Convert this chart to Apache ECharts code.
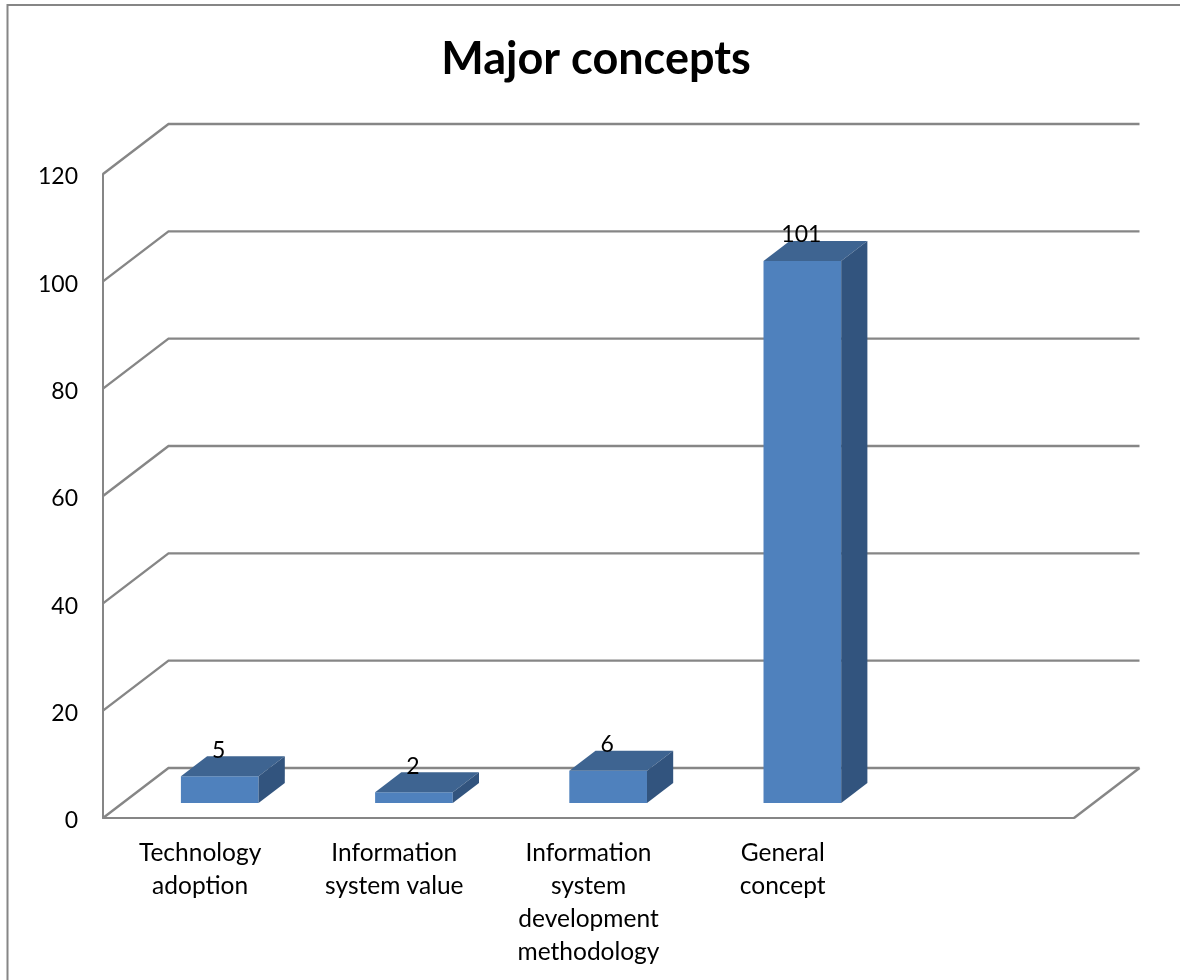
<!DOCTYPE html>
<html>
<head>
<meta charset="utf-8">
<style>html,body{margin:0;padding:0;background:#fff}#chart{width:1180px;height:980px}</style>
<script src="https://cdn.jsdelivr.net/npm/echarts@6/dist/echarts.min.js"></script>
</head>
<body>
<div id="chart"></div>
<script>
// Chart data
const chartTitle = 'Major concepts';
const categories = ['Technology\nadoption', 'Information\nsystem value', 'Information\nsystem\ndevelopment\nmethodology', 'General\nconcept', ''];
const conceptCounts = [5, 2, 6, 101];
const yTicks = [0, 20, 40, 60, 80, 100, 120];

// Oblique projection of the box: pixels moved per full unit of floor depth
const DEPTH_X = 65.5;
const DEPTH_Y = -50;
const BAR_FRONT = 0.3;
const BAR_DEPTH = 0.4;
const BAR_WIDTH_RATIO = 0.4;

const WALL = '#868686';
const FRONT = '#4f81bd';
const TOP = '#3e6491';
const SIDE = '#32547e';
const FONT = 'Lato';

const chart = echarts.init(document.getElementById('chart'), null, { renderer: 'canvas' });

function renderWall(params, api) {
  const rect = params.coordSys;
  const v = api.value(0);
  const y = api.coord([0, v])[1];
  const x0 = rect.x;
  const x1 = rect.x + rect.width;
  const shape = { points: [[x0, y], [x0 + DEPTH_X, y + DEPTH_Y], [x1 + DEPTH_X, y + DEPTH_Y]] };
  const children = [{ type: 'polyline', shape, style: { stroke: WALL, lineWidth: 2.4, fill: 'none' } }];
  if (v === 0) {
    children.push({
      type: 'line',
      shape: { x1: x1, y1: y, x2: x1 + DEPTH_X, y2: y + DEPTH_Y },
      style: { stroke: WALL, lineWidth: 2.4 }
    });
  }
  return { type: 'group', children };
}

function renderBar(params, api) {
  const idx = api.value(0);
  const val = api.value(1);
  const base = api.coord([idx, 0]);
  const top = api.coord([idx, val]);
  const w = api.size([1, 0])[0] * BAR_WIDTH_RATIO;
  const l = base[0] - w / 2 + DEPTH_X * BAR_FRONT;
  const r = l + w;
  const yB = base[1] + DEPTH_Y * BAR_FRONT;
  const yT = top[1] + DEPTH_Y * BAR_FRONT;
  const dx = DEPTH_X * BAR_DEPTH;
  const dy = DEPTH_Y * BAR_DEPTH;
  return {
    type: 'group',
    children: [
      { type: 'polygon', shape: { points: [[l, yB], [r, yB], [r, yT], [l, yT]] }, style: { fill: FRONT } },
      { type: 'polygon', shape: { points: [[l, yT], [r, yT], [r + dx, yT + dy], [l + dx, yT + dy]] }, style: { fill: TOP } },
      { type: 'polygon', shape: { points: [[r, yB], [r + dx, yB + dy], [r + dx, yT + dy], [r, yT]] }, style: { fill: SIDE } },
      {
        type: 'text',
        z2: 10,
        style: {
          x: (l + r) / 2 - 1,
          y: yT - 26,
          text: String(val),
          font: '23px ' + FONT,
          fill: '#000',
          align: 'center',
          verticalAlign: 'middle'
        }
      }
    ]
  };
}

chart.setOption({
  animation: false,
  backgroundColor: '#fff',
  title: {
    text: chartTitle,
    left: 591,
    top: 32,
    textAlign: 'center',
    textStyle: { fontFamily: FONT, fontSize: 45, fontWeight: 'bold', color: '#000' }
  },
  grid: { left: 103, top: 174, width: 971, height: 644 },
  xAxis: {
    type: 'category',
    data: categories,
    axisTick: { show: false },
    axisLine: { lineStyle: { color: WALL, width: 2 } },
    axisLabel: { interval: 0, margin: 19, color: '#000', fontFamily: FONT, fontSize: 24.5, lineHeight: 33 }
  },
  yAxis: {
    type: 'value',
    min: 0,
    max: 120,
    interval: 20,
    axisTick: { show: false },
    splitLine: { show: false },
    axisLine: { show: true, lineStyle: { color: WALL, width: 2 } },
    axisLabel: {
      margin: 25,
      formatter: '{tick|{value}}',
      rich: {
        tick: { color: '#000', fontFamily: FONT, fontSize: 23, padding: [6, 0, 0, 0] }
      }
    }
  },
  graphic: [{
    // Outer chart-area border, open towards the page edges
    type: 'polyline',
    silent: true,
    shape: { points: [[7.5, 980], [7.5, 5], [1180, 5]] },
    style: { stroke: WALL, lineWidth: 2, fill: 'none' }
  }],
  series: [
    {
      type: 'custom',
      silent: true,
      renderItem: renderWall,
      encode: { y: 0 },
      data: yTicks.map(v => [v]),
      z: 1
    },
    {
      type: 'custom',
      silent: true,
      renderItem: renderBar,
      encode: { x: 0, y: 1 },
      data: conceptCounts.map((v, i) => [i, v]),
      z: 3
    }
  ]
});
</script>
</body>
</html>
